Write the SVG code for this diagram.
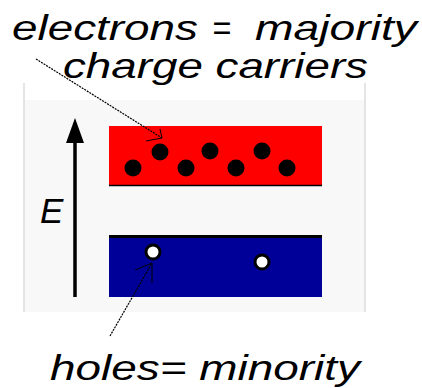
<svg xmlns="http://www.w3.org/2000/svg" width="422" height="388" viewBox="0 0 422 388">
<style>
.t{font-family:"Liberation Sans",Arial,sans-serif;font-style:italic;font-size:35px;fill:#000}
.c{stroke:#000;stroke-width:1.2;fill:none;stroke-dasharray:2 1}
.e{fill:#000}
.h{fill:#fff;stroke:#000;stroke-width:3}
</style>
<rect width="422" height="388" fill="#fff"/>
<g id="panel">
<rect x="24" y="100" width="341" height="212" fill="#f8f8f8"/>
<line x1="24" y1="83" x2="24" y2="312" stroke="#ddd" stroke-width="1.5"/>
<line x1="365" y1="83" x2="365" y2="312" stroke="#ddd" stroke-width="1.5"/>
</g>
<g id="conduction-band">
<rect x="109" y="126" width="213" height="60" fill="#ff0000"/>
<line x1="109" y1="185.5" x2="322" y2="185.5" stroke="#000" stroke-width="1.5"/>
<circle class="e" cx="133" cy="168" r="8.5"/>
<circle class="e" cx="160" cy="152" r="8.5"/>
<circle class="e" cx="186" cy="168" r="8.5"/>
<circle class="e" cx="210" cy="151" r="8.5"/>
<circle class="e" cx="236" cy="168" r="8.5"/>
<circle class="e" cx="262" cy="151" r="8.5"/>
<circle class="e" cx="287" cy="168" r="8.5"/>
</g>
<g id="valence-band">
<rect x="109" y="235" width="213" height="62" fill="#000099"/>
<line x1="109" y1="236.5" x2="322" y2="236.5" stroke="#000" stroke-width="3"/>
<circle class="h" cx="153" cy="252" r="7"/>
<circle class="h" cx="262" cy="262" r="7"/>
</g>
<g id="energy-axis">
<line x1="75" y1="297" x2="75" y2="138" stroke="#000" stroke-width="3.5"/>
<polygon points="75,118 66,143 84,143" fill="#000"/>
<text class="t" x="40" y="223" font-size="38">E</text>
</g>
<g id="connectors">
<line class="c" x1="36" y1="59" x2="162" y2="138"/>
<polyline points="146,141 162,138 160,129" fill="none" stroke="#000" stroke-width="1"/>
<line class="c" x1="110" y1="336" x2="152" y2="263"/>
<polyline points="135,270 152,263 152,283" fill="none" stroke="#000" stroke-width="1"/>
</g>
<g id="labels">
<text class="t" x="12" y="40" textLength="186" lengthAdjust="spacingAndGlyphs">electrons</text>
<text class="t" x="212" y="40" textLength="19" lengthAdjust="spacingAndGlyphs">=</text>
<text class="t" x="255" y="40" textLength="162" lengthAdjust="spacingAndGlyphs">majority</text>
<text class="t" x="63" y="78" textLength="305" lengthAdjust="spacingAndGlyphs">charge carriers</text>
<text class="t" x="50" y="380" textLength="310" lengthAdjust="spacingAndGlyphs">holes= minority</text>
</g>
</svg>
